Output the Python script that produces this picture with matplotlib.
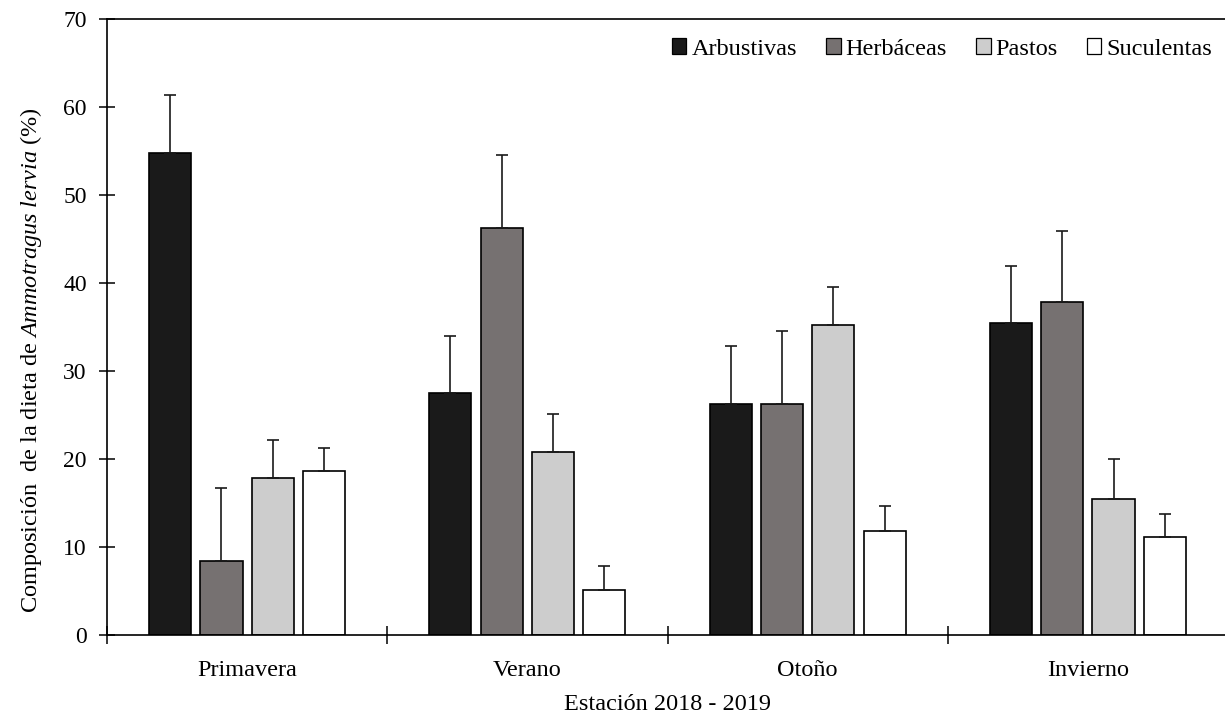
import matplotlib
matplotlib.use("Agg")
import matplotlib.pyplot as plt
from matplotlib.patches import Patch
import numpy as np

plt.rcParams["font.family"] = ["Liberation Serif", "DejaVu Serif"]
plt.rcParams["mathtext.fontset"] = "custom"
plt.rcParams["mathtext.rm"] = "Liberation Serif"
plt.rcParams["mathtext.it"] = "Liberation Serif:italic"

# Seasons and diet components
seasons = ["Primavera", "Verano", "Otoño", "Invierno"]
groups = ["Arbustivas", "Herbáceas", "Pastos", "Suculentas"]

# Mean percentage of each component per season
arbustivas = [54.8, 27.5, 26.3, 35.4]
herbaceas = [8.4, 46.3, 26.3, 37.8]
pastos = [17.8, 20.8, 35.2, 15.5]
suculentas = [18.6, 5.1, 11.8, 11.1]

# Upper end of the error bars (mean + error)
arbustivas_top = [61.4, 34.0, 32.8, 41.9]
herbaceas_top = [16.7, 54.6, 34.6, 45.9]
pastos_top = [22.2, 25.1, 39.6, 20.0]
suculentas_top = [21.2, 7.8, 14.7, 13.7]

means = [arbustivas, herbaceas, pastos, suculentas]
tops = [arbustivas_top, herbaceas_top, pastos_top, suculentas_top]
colors = ["#1a1a1a", "#767171", "#cdcdcd", "#ffffff"]

fig = plt.figure(figsize=(12.25, 7.15), dpi=100)
ax = fig.add_axes([107 / 1225, 80 / 715, 1121 / 1225, 616 / 715])

centers = np.arange(len(seasons)) + 0.5
width = 0.15
step = 0.183
offsets = (np.arange(4) - 1.5) * step

for i in range(4):
    x = centers + offsets[i]
    m = np.array(means[i])
    err = np.array(tops[i]) - m
    ax.bar(x, m, width=width, color=colors[i], edgecolor="black",
           linewidth=1.2, zorder=2)
    ax.errorbar(x, m, yerr=[np.zeros_like(err), err], fmt="none",
                ecolor="#1a1a1a", elinewidth=1.2, capsize=4,
                capthick=1.2, zorder=3)

ax.set_xlim(0, 4)
ax.set_ylim(0, 70)
ax.set_yticks(np.arange(0, 71, 10))
ax.tick_params(axis="y", direction="inout", length=11, width=1.1,
               labelsize=17, pad=9)

ax.set_xticks(centers)
ax.set_xticklabels(seasons)
ax.set_xticks(np.arange(0, 5), minor=True)
ax.tick_params(axis="x", which="major", length=0, labelsize=17.5, pad=18)
ax.tick_params(axis="x", which="minor", direction="inout", length=13,
               width=1.1)

for side in ["left", "bottom", "top"]:
    ax.spines[side].set_linewidth(1.2)
ax.spines["right"].set_visible(False)

ax.set_xlabel("Estación 2018 - 2019", fontsize=17.5, labelpad=9)
ax.set_ylabel(r"Composición  de la dieta de $\mathit{Ammotragus\ lervia}$ (%)",
              fontsize=17.5)
ax.yaxis.set_label_coords(-0.056, 0.446)

handles = [Patch(facecolor=c, edgecolor="black", linewidth=0.9) for c in colors]
fig.legend(handles, groups, loc="center right",
           bbox_to_anchor=(1212 / 1225, 1 - 49 / 715), ncol=4, frameon=False,
           fontsize=17.5, handlelength=0.6, handleheight=0.6,
           handletextpad=0.2, columnspacing=1.2, borderaxespad=0,
           borderpad=0)

fig.savefig("out.png", dpi=100)
